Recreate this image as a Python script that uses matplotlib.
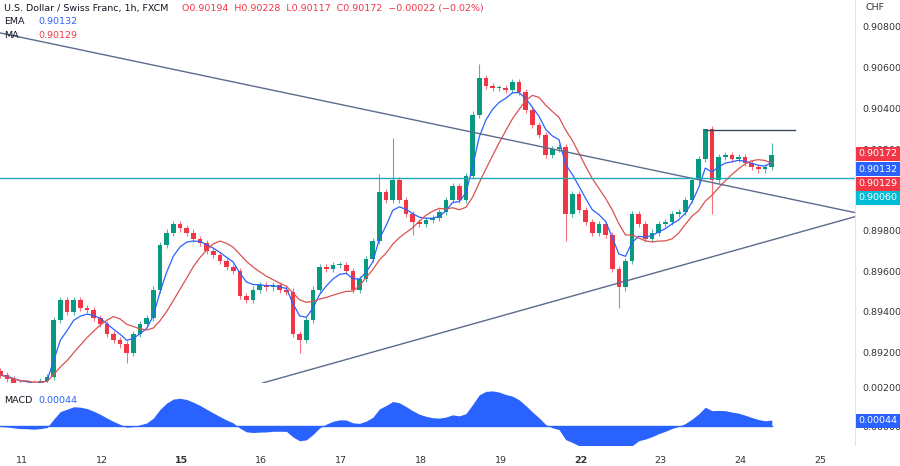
import numpy as np
import matplotlib
matplotlib.use("Agg")
import matplotlib.pyplot as plt
import matplotlib.transforms as mtrans

# 2-hour closes, USD/CHF (time in days from the 11th)
t_start = -0.27
step = 1 / 12
closes = [
    0.8909, 0.8907, 0.8905, 0.8904, 0.8905, 0.8903, 0.8906, 0.8908, 0.8936, 0.8946,
    0.8940, 0.8946, 0.8942, 0.8941, 0.8937, 0.8934, 0.8929, 0.8926, 0.8924, 0.8920,
    0.8929, 0.8934, 0.8937, 0.8951, 0.8973, 0.8979, 0.8983, 0.8981, 0.8979, 0.8976,
    0.8974, 0.8970, 0.8968, 0.8965, 0.8962, 0.8960, 0.8948, 0.8946, 0.8951, 0.8953,
    0.8952, 0.8953, 0.8951, 0.8950, 0.8929, 0.8926, 0.8936, 0.8951, 0.8962, 0.8961,
    0.8963, 0.8963, 0.8960, 0.8951, 0.8956, 0.8966, 0.8975, 0.8999, 0.8995, 0.9005,
    0.8995, 0.8988, 0.8984, 0.8983, 0.8985, 0.8986, 0.8989, 0.8995, 0.9002, 0.8995,
    0.9007, 0.9037, 0.9055, 0.9051, 0.9050, 0.9050, 0.9049, 0.9053, 0.9048, 0.9039,
    0.9032, 0.9027, 0.9017, 0.9020, 0.9021, 0.8988, 0.8998, 0.8990, 0.8984, 0.8979,
    0.8983, 0.8978, 0.8961, 0.8952, 0.8965, 0.8988, 0.8983, 0.8976, 0.8979, 0.8983,
    0.8984, 0.8988, 0.8989, 0.8995, 0.9005, 0.9015, 0.9030, 0.9005, 0.9016, 0.9017,
    0.9015, 0.9016, 0.9013, 0.9011, 0.9010, 0.9011, 0.90172,
]
# notable wick extremes: candle index -> price
spike_highs = {59: 0.90255, 72: 0.9062, 106: 0.90295, 116: 0.90228, 57: 0.9008}
spike_lows = {93: 0.8942, 45: 0.8920, 19: 0.8915, 85: 0.8975, 107: 0.8988, 62: 0.8978}
wick = 0.00015

day_labels = ["11", "12", "15", "16", "17", "18", "19", "22", "23", "24", "25"]
bold_days = ["15", "22"]

closes = np.array(closes)
n = len(closes)
x = t_start + step * np.arange(n)
opens = np.r_[closes[0] + 0.0002, closes[:-1]]
highs = np.maximum(opens, closes) + wick
lows = np.minimum(opens, closes) - wick
for i, v in spike_highs.items():
    highs[i] = v
for i, v in spike_lows.items():
    lows[i] = v

up_c, dn_c = "#089981", "#f23645"
fs = 6.8

def ema(a, span):
    k = 2 / (span + 1)
    out = np.empty_like(a)
    out[0] = a[0]
    for i in range(1, len(a)):
        out[i] = a[i] * k + out[i - 1] * (1 - k)
    return out

ema_line = ema(closes, 5)
ma_line = np.array([closes[max(0, i - 9):i + 1].mean() for i in range(n)])
macd = ema(closes, 6) - ema(closes, 13)

fig = plt.figure(figsize=(9, 4.66), dpi=100)
ax = fig.add_axes([0, 83 / 466, 855 / 900, 383 / 466])
mx = fig.add_axes([0, 21 / 466, 855 / 900, 62 / 466], sharex=ax)

def ypx(y):
    return 0.908 - (y - 27) * 0.002 / 40.7

for i in range(n):
    c = up_c if closes[i] >= opens[i] else dn_c
    ax.vlines(x[i], lows[i], highs[i], color=c, lw=0.8, alpha=0.7)
    body = max(abs(closes[i] - opens[i]), 0.00003)
    ax.bar(x[i], body, bottom=min(opens[i], closes[i]), width=step * 0.7, color=c, lw=0)

ax.plot(x, ema_line, color="#2962ff", lw=0.9)
ax.plot(x, ma_line, color="#d9534f", lw=0.9)

tl = "#5b6b8c"
ax.plot([-0.276, 10.44], [0.90771, 0.89888], color=tl, lw=1)
ax.plot([3.01, 10.44], [0.8905, 0.89868], color=tl, lw=1)
ax.plot([8.56, 9.69], [0.90295, 0.90295], color="#3d4a5c", lw=1)
ax.axhline(0.90060, color="#26a7b5", lw=1)

ax.set_xlim(-0.276, 10.44)
ax.set_ylim(ypx(383), ypx(0))
ax.yaxis.tick_right()
ticks = [0.892, 0.894, 0.896, 0.898, 0.900, 0.902, 0.904, 0.906, 0.908]
ax.set_yticks(ticks)
ax.set_yticklabels([f"{v:.5f}" for v in ticks], fontsize=fs, color="#333")
ax.tick_params(axis="y", length=0, pad=5)
ax.tick_params(axis="x", bottom=False, labelbottom=False)
for s in ax.spines.values():
    s.set_visible(False)
ax.spines["right"].set_visible(True)
ax.spines["right"].set_color("#e0e3eb")
ax.spines["bottom"].set_visible(True)
ax.spines["bottom"].set_color("#e0e3eb")
ax.text(1.012, 1 - 8 / 383, "CHF", transform=ax.transAxes, fontsize=fs, color="#333", va="center")

tr = mtrans.blended_transform_factory(ax.transAxes, ax.transData)
tags = [(0.90172, "#f23645"), (0.90132, "#2962ff"), (0.90129, "#f23645"), (0.90060, "#00bcd4")]
for (v, c), py in zip(tags, [154, 169, 184, 198]):
    ax.text(1.004, ypx(py), f"{v:.5f}", transform=tr, fontsize=fs, color="white",
            va="center", ha="left",
            bbox=dict(boxstyle="square,pad=0.25", fc=c, ec="none"), clip_on=False)

ax.text(0.005, 1 - 8 / 383, "U.S. Dollar / Swiss Franc, 1h, FXCM", transform=ax.transAxes,
        fontsize=fs, color="#131722", va="center")
ax.text(0.213, 1 - 8 / 383, "O0.90194  H0.90228  L0.90117  C0.90172  \u22120.00022 (\u22120.02%)",
        transform=ax.transAxes, fontsize=fs, color="#f23645", va="center")
ax.text(0.005, 1 - 22 / 383, "EMA", transform=ax.transAxes, fontsize=fs, color="#131722", va="center")
ax.text(0.045, 1 - 22 / 383, "0.90132", transform=ax.transAxes, fontsize=fs, color="#2962ff", va="center")
ax.text(0.005, 1 - 36 / 383, "MA", transform=ax.transAxes, fontsize=fs, color="#131722", va="center")
ax.text(0.045, 1 - 36 / 383, "0.90129", transform=ax.transAxes, fontsize=fs, color="#f23645", va="center")

mx.fill_between(x, 0, macd, color="#2962ff", lw=0)
mx.plot(x, np.zeros(n), color="#2962ff", lw=1)
mx.set_ylim(-0.00096, 0.00225)
mx.yaxis.tick_right()
mx.set_yticks([0.0, 0.002])
mx.set_yticklabels(["0.00000", "0.00200"], fontsize=fs, color="#333")
mx.tick_params(axis="y", length=0, pad=5)
for s in mx.spines.values():
    s.set_visible(False)
mx.spines["right"].set_visible(True)
mx.spines["right"].set_color("#e0e3eb")
mx.text(0.005, 0.72, "MACD", transform=mx.transAxes, fontsize=fs, color="#131722", va="center")
mx.text(0.045, 0.72, "0.00044", transform=mx.transAxes, fontsize=fs, color="#2962ff", va="center")
mtr = mtrans.blended_transform_factory(mx.transAxes, mx.transData)
mx.text(1.004, 0.00030, "0.00044", transform=mtr, fontsize=fs, color="white", va="center",
        bbox=dict(boxstyle="square,pad=0.25", fc="#2962ff", ec="none"), clip_on=False)

mx.set_xticks(np.arange(len(day_labels)))
mx.set_xticklabels(day_labels, fontsize=fs, color="#333")
for lab in mx.get_xticklabels():
    if lab.get_text() in bold_days:
        lab.set_fontweight("bold")
mx.tick_params(axis="x", length=0, pad=8)

fig.savefig("out.png", dpi=100)
